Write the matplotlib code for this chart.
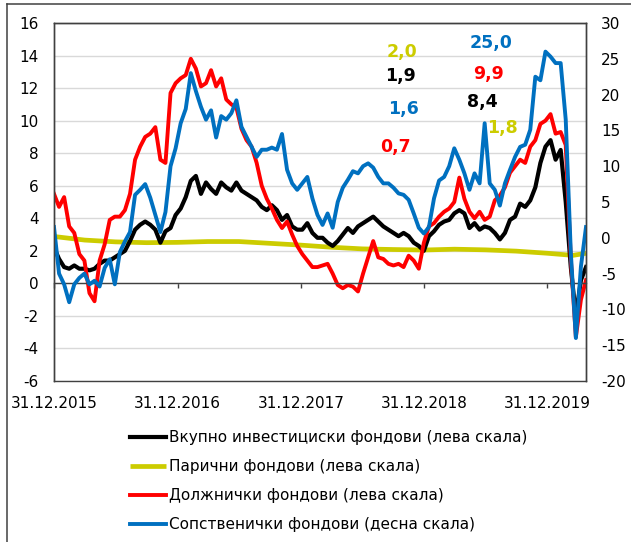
import matplotlib
matplotlib.use('Agg')
import matplotlib.pyplot as plt
from matplotlib.lines import Line2D
import pandas as pd

plt.rcParams['axes.unicode_minus'] = False

# observations every 15 days from 31.12.2015
dates = pd.date_range('2015-12-31', periods=106, freq='15D')

# Вкупно инвестициски фондови (лева скала)
vkupno = [
    2.2, 1.5, 1.0, 0.9, 1.1, 0.9, 0.9, 0.8, 0.9, 1.2,
    1.4, 1.4, 1.6, 1.8, 2.0, 2.6, 3.3, 3.6, 3.8, 3.6,
    3.3, 2.5, 3.2, 3.4, 4.2, 4.6, 5.3, 6.3, 6.6, 5.5,
    6.2, 5.8, 5.5, 6.2, 5.9, 5.7, 6.2, 5.7, 5.5, 5.3,
    5.1, 4.7, 4.5, 4.8, 4.5, 3.9, 4.2, 3.5, 3.3, 3.3,
    3.7, 3.1, 2.8, 2.8, 2.5, 2.3, 2.6, 3.0, 3.4, 3.1,
    3.5, 3.7, 3.9, 4.1, 3.8, 3.5, 3.3, 3.1, 2.9, 3.1,
    2.9, 2.5, 2.3, 2.0, 2.9, 3.2, 3.6, 3.8, 3.9, 4.3,
    4.5, 4.3, 3.4, 3.7, 3.3, 3.5, 3.4, 3.1, 2.7, 3.1,
    3.9, 4.1, 4.9, 4.7, 5.1, 5.9, 7.4, 8.4, 8.8, 7.6,
    8.2, 5.0, 1.0, -2.0, 0.2, 1.0,
]

# Должнички фондови (лева скала)
dolznicki = [
    5.5, 4.7, 5.3, 3.5, 3.1, 1.8, 1.4, -0.6, -1.1, 1.4,
    2.4, 3.9, 4.1, 4.1, 4.5, 5.5, 7.6, 8.4, 9.0, 9.2,
    9.6, 7.6, 7.4, 11.7, 12.3, 12.6, 12.8, 13.8, 13.2, 12.1,
    12.3, 13.1, 12.1, 12.6, 11.3, 11.0, 10.8, 9.5, 8.8, 8.4,
    7.4, 6.0, 5.2, 4.6, 3.9, 3.4, 3.8, 3.0, 2.3, 1.8,
    1.4, 1.0, 1.0, 1.1, 1.2, 0.6, -0.1, -0.3, -0.1, -0.2,
    -0.5, 0.6, 1.6, 2.6, 1.6, 1.5, 1.2, 1.1, 1.2, 1.0,
    1.7, 1.4, 0.9, 2.5, 3.5, 3.7, 4.1, 4.4, 4.6, 5.0,
    6.5, 5.2, 4.4, 4.0, 4.4, 3.9, 4.1, 5.1, 5.4, 5.9,
    6.8, 7.2, 7.6, 7.4, 8.4, 8.8, 9.8, 10.0, 10.4, 9.2,
    9.3, 8.5, 1.5, -3.3, -1.0, 0.2,
]

# Сопственички фондови (десна скала)
sopstvenicki = [
    1.5, -5.0, -6.5, -9.0, -6.5, -5.6, -5.0, -6.5, -6.0, -6.8,
    -4.2, -3.0, -6.5, -2.0, -0.5, 0.8, 6.0, 6.7, 7.5, 5.6,
    3.2, 0.8, 3.6, 10.0, 12.5, 16.0, 18.0, 23.0, 20.5, 18.3,
    16.5, 17.8, 14.0, 17.0, 16.5, 17.4, 19.2, 15.5, 14.1, 12.7,
    11.3, 12.3, 12.3, 12.6, 12.3, 14.5, 9.5, 7.6, 6.7, 7.6,
    8.5, 5.5, 3.2, 1.8, 3.4, 1.4, 5.0, 7.0, 8.1, 9.3,
    9.0, 10.0, 10.4, 9.8, 8.5, 7.6, 7.6, 7.0, 6.2, 6.0,
    5.3, 3.4, 1.4, 0.6, 1.5, 5.5, 8.0, 8.5, 10.0, 12.5,
    10.9, 9.0, 6.7, 9.0, 7.6, 16.0, 7.6, 6.7, 4.5, 7.6,
    9.5, 11.3, 12.7, 13.0, 15.1, 22.5, 22.0, 26.0, 25.3, 24.4,
    24.4, 16.5, -2.0, -14.0, -4.0, 1.5,
]

# Парични фондови (лева скала), quarterly readings
paricni_dates = pd.to_datetime([
    '2015-12-31', '2016-03-31', '2016-06-30', '2016-09-30', '2016-12-31',
    '2017-03-31', '2017-06-30', '2017-09-30', '2017-12-31', '2018-03-31',
    '2018-06-30', '2018-09-30', '2018-12-31', '2019-03-31', '2019-06-30',
    '2019-09-30', '2019-12-31', '2020-03-15', '2020-04-23',
])
paricni = [2.88, 2.66, 2.55, 2.50, 2.52, 2.57, 2.57, 2.46, 2.35, 2.22,
           2.12, 2.08, 2.05, 2.10, 2.06, 1.98, 1.85, 1.72, 1.85]

year_ticks = pd.to_datetime(['2015-12-31', '2016-12-31', '2017-12-31',
                             '2018-12-31', '2019-12-31'])
year_labels = [d.strftime('%d.%m.%Y') for d in year_ticks]

series_names = ['Вкупно инвестициски фондови (лева скала)',
                'Парични фондови (лева скала)',
                'Должнички фондови (лева скала)',
                'Сопственички фондови (десна скала)']

# annual changes written over the chart: (text, colour, x, y in axes fraction)
notes = [
    ('2,0', 'yellow', 0.654, 0.918),
    ('1,9', 'black', 0.651, 0.852),
    ('1,6', 'blue', 0.656, 0.760),
    ('0,7', 'red', 0.641, 0.655),
    ('25,0', 'blue', 0.821, 0.944),
    ('9,9', 'red', 0.817, 0.857),
    ('8,4', 'black', 0.806, 0.780),
    ('1,8', 'yellow', 0.843, 0.706),
]

BLACK = '#000000'
YELLOW = '#CCCC00'
RED = '#FF0000'
BLUE = '#0070C0'
SPINE = '#404040'
colors = {'black': BLACK, 'yellow': YELLOW, 'red': RED, 'blue': BLUE}

W, H = 631, 542
fig = plt.figure(figsize=(W / 100, H / 100), dpi=100)
ax = fig.add_axes([54 / W, 1 - 381 / H, 532 / W, 358 / H])
ax2 = ax.twinx()

ax.set_xlim(dates[0], dates[-1])
ax.set_ylim(-6, 16)
ax.set_yticks(range(-6, 17, 2))
ax2.set_ylim(-20, 30)
ax2.set_yticks(range(-20, 31, 5))

ax.grid(axis='y', color='#d9d9d9', lw=1)
ax.set_axisbelow(True)

l_pa, = ax.plot(paricni_dates, paricni, color=YELLOW, lw=3.4, solid_capstyle='butt')
l_vk, = ax.plot(dates, vkupno, color=BLACK, lw=3.0)
l_do, = ax.plot(dates, dolznicki, color=RED, lw=2.8)
l_so, = ax2.plot(dates, sopstvenicki, color=BLUE, lw=2.8)

# x axis runs through zero on the left scale, labels stay under the box
ax.spines['bottom'].set_position(('data', 0))
for a in (ax, ax2):
    for s in a.spines.values():
        s.set_color(SPINE)
        s.set_linewidth(1.0)
ax.set_xticks(year_ticks)
ax.set_xticklabels(year_labels)
ax.tick_params(axis='x', direction='out', length=3.5, width=1, color=SPINE,
               labelsize=11, pad=77.5)
ax.tick_params(axis='y', length=0, labelsize=11, pad=11)
ax2.tick_params(axis='y', length=0, labelsize=11, pad=11)

for txt, c, x, y in notes:
    ax.text(x, y, txt, transform=ax.transAxes, ha='center', va='center',
            color=colors[c], fontsize=12.5, fontweight='bold')

fig.legend([l_vk, l_pa, l_do, l_so], series_names, loc='upper left',
           bbox_to_anchor=(130 / W, 1 - 430 / H), frameon=False, fontsize=11,
           handlelength=2.35, handletextpad=0.2, labelspacing=0.92,
           borderpad=0, borderaxespad=0)

# outer frame on top and left
fig.add_artist(Line2D([7 / W, 1], [1 - 4 / H, 1 - 4 / H], color=SPINE, lw=1.1))
fig.add_artist(Line2D([7 / W, 7 / W], [0, 1 - 4 / H], color=SPINE, lw=1.1))

fig.savefig('out.png', dpi=100)
